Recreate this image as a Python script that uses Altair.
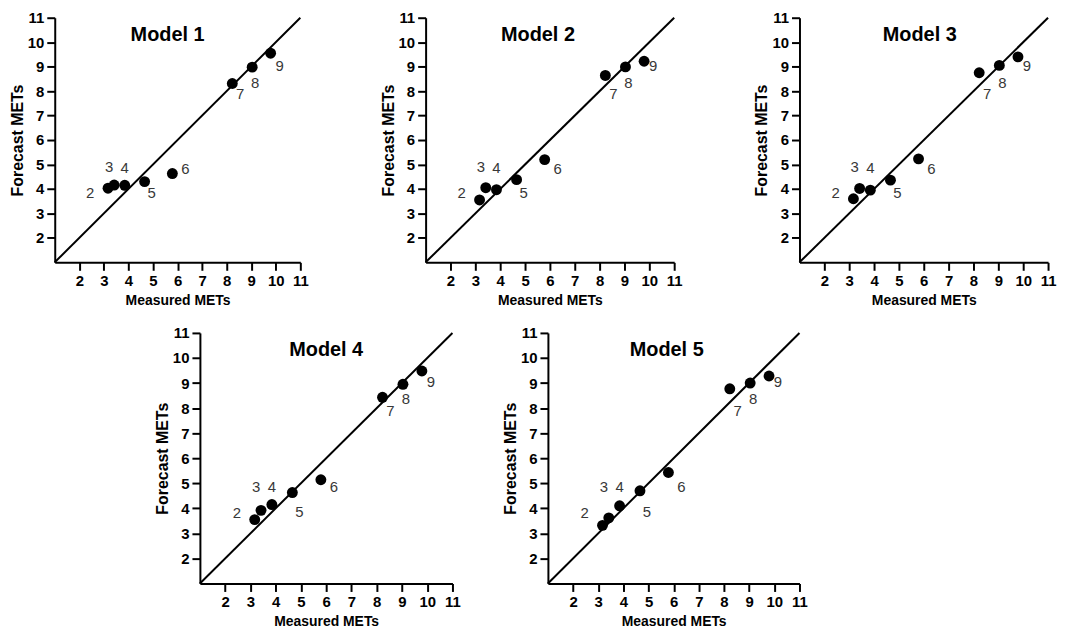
import altair as alt
import pandas as pd

# ---- data ----
point_ids = ["2", "3", "4", "5", "6", "7", "8", "9"]
measured = [3.17, 3.42, 3.85, 4.66, 5.79, 8.23, 9.04, 9.79]

model_names = ["Model 1", "Model 2", "Model 3", "Model 4", "Model 5"]
forecast_m1 = [4.03, 4.16, 4.15, 4.30, 4.63, 8.31, 8.98, 9.55]
forecast_m2 = [3.55, 4.05, 3.97, 4.38, 5.20, 8.64, 8.99, 9.22]
forecast_m3 = [3.60, 4.02, 3.95, 4.36, 5.23, 8.75, 9.05, 9.40]
forecast_m4 = [3.55, 3.92, 4.15, 4.63, 5.14, 8.43, 8.95, 9.48]
forecast_m5 = [3.32, 3.62, 4.10, 4.70, 5.43, 8.77, 9.00, 9.28]

identity_line = [1, 11]
tick_values = [2, 3, 4, 5, 6, 7, 8, 9, 10, 11]
axis_domain = [1, 11]

# ---- styling (pixel offsets of the point labels, panel sizes) ----
label_offsets = [(-18, -16), (-5, -36), (0, -25), (7, 20), (13, 24), (8, 9), (3, 17), (9, 19)]
FONT = "Liberation Sans"


def panel(name, forecast, w, h, title_dx):
    def xenc():
        return alt.X("x:Q", scale=alt.Scale(domain=axis_domain, nice=False, zero=False),
                     axis=alt.Axis(values=tick_values, title="Measured METs", tickSize=8,
                                   labelPadding=3, titlePadding=5, titleFontSize=14,
                                   labelFontSize=15, labelFlush=False, labelOverlap=False))

    def yenc():
        return alt.Y("y:Q", scale=alt.Scale(domain=axis_domain, nice=False, zero=False),
                     axis=alt.Axis(values=tick_values, title="Forecast METs", tickSize=8,
                                   labelPadding=3, titlePadding=2, titleFontSize=16,
                                   labelFontSize=15, labelFlush=False, labelOverlap=False))

    line_df = pd.DataFrame({"x": identity_line, "y": identity_line})
    pts_df = pd.DataFrame({"x": measured, "y": forecast, "id": point_ids})
    lab_df = pd.DataFrame({"x": measured, "y": measured, "id": point_ids})

    line = alt.Chart(line_df).mark_line(color="black", strokeWidth=2).encode(x=xenc(), y=yenc())
    pts = alt.Chart(pts_df).mark_circle(size=120, color="black", opacity=1).encode(x=xenc(), y=yenc())
    layers = [line, pts]
    for i, (dx, dy) in enumerate(label_offsets):
        layers.append(
            alt.Chart(lab_df.iloc[[i]]).mark_text(
                dx=dx, dy=dy, fontSize=15, font=FONT, color="#383838",
                align="center", baseline="middle"
            ).encode(x=xenc(), y=yenc(), text="id:N")
        )
    return alt.layer(*layers).properties(
        width=w, height=h,
        title=alt.TitleParams(name, font=FONT, fontSize=20, fontWeight="bold", color="black",
                              frame="group", anchor="middle", offset=-34, dx=title_dx),
    )


m1 = panel(model_names[0], forecast_m1, 247, 246, -10)
m2 = panel(model_names[1], forecast_m2, 250, 246, -12)
m3 = panel(model_names[2], forecast_m3, 250, 246, -4)
m4 = panel(model_names[3], forecast_m4, 254, 252, 0)
m5 = panel(model_names[4], forecast_m5, 253, 252, -7)

spacer = alt.Chart(pd.DataFrame({"x": [0]})).mark_point(size=0, opacity=0).encode(
    x=alt.value(0), y=alt.value(0)
).properties(width=58, height=10)

top = alt.hconcat(m1, m2, m3, spacing=70)
bottom = alt.hconcat(spacer, m4, m5, spacing=40)

chart = alt.vconcat(top, bottom, spacing=17).properties(padding=0).configure_view(
    stroke="transparent"
).configure_axis(
    domainColor="black", domainWidth=2, tickColor="black", tickWidth=2,
    labelColor="black", labelFont=FONT, labelFontWeight="bold",
    titleColor="black", titleFont=FONT, titleFontWeight="bold",
    grid=False,
)

chart.save("out.html", embed_options={"renderer": "svg", "actions": False})
